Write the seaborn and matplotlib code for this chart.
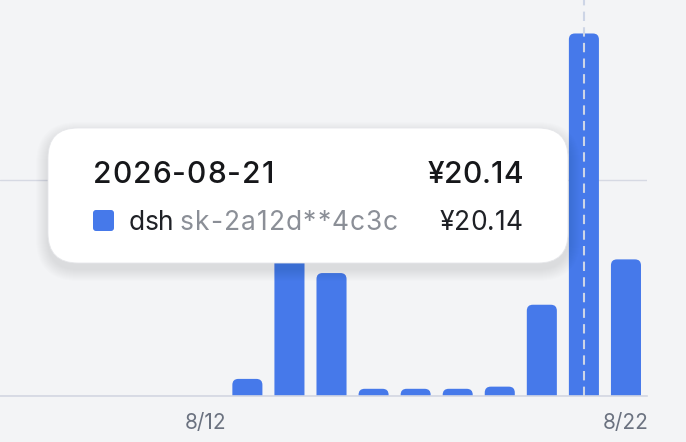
import numpy as np
import pandas as pd
import matplotlib
matplotlib.use('Agg')
import matplotlib.pyplot as plt
import matplotlib.transforms as mtransforms
from matplotlib.patches import FancyBboxPatch
import seaborn as sns

# =============================================================================
# DATA (daily cost, CNY)
days = ['8/08', '8/09', '8/10', '8/11', '8/12', '8/13', '8/14', '8/15',
        '8/16', '8/17', '8/18', '8/19', '8/20', '8/21', '8/22']
cost = [0, 0, 0, 0, 0, 0.95, 10.6, 6.83, 0.4, 0.4, 0.4, 0.52, 5.07, 20.14, 7.59]
tick_days = ['8/12', '8/22']
grid_vals = [0, 12]

hover_day = '8/21'
hover_date = '2026-08-21'
hover_user = 'dsh'
hover_key = 'sk-2a12d**4c3c'
hover_total = '¥20.14'
hover_value = '¥20.14'

# =============================================================================
W, H = 686, 442
bg = '#f3f4f6'
blue = '#4679ea'

sns.set_theme(style='white')
plt.rcParams['font.family'] = ['Inter', 'DejaVu Sans']

fig = plt.figure(figsize=(W / 100, H / 100), dpi=100, facecolor=bg)
ax = fig.add_axes([0, (H - 396) / H, 647 / W, 396 / H])
ax.set_facecolor(bg)

df = pd.DataFrame({'day': days, 'cost': cost})
sns.barplot(data=df, x='day', y='cost', color=blue, width=30 / 42,
            saturation=1, ax=ax)

ax.set_xlim(len(days) - 1 - 625 / 42, len(days) - 0.5)
ax.set_ylim(0, 22.0)

# rounded tops on the bars
fig.canvas.draw()
renderer = fig.canvas.get_renderer()
bb = ax.get_window_extent()
px_x = bb.width / np.ptp(ax.get_xlim())
px_y = bb.height / np.ptp(ax.get_ylim())
r = 6 / px_x
aspect = px_x / px_y
for p in list(ax.patches):
    x0, w, h = p.get_x(), p.get_width(), p.get_height()
    p.remove()
    if h <= 0:
        continue
    ax.add_patch(FancyBboxPatch((x0, -r * aspect), w, h + r * aspect,
                                boxstyle='round,pad=0,rounding_size=%f' % r,
                                mutation_aspect=aspect, fc=blue, ec='none',
                                zorder=2))

ax.axvline(days.index(hover_day), color='#cdd5e6', lw=1.5,
           dashes=(4.5, 3), zorder=3)

for s in ['top', 'right', 'left']:
    ax.spines[s].set_visible(False)
ax.spines['bottom'].set_color('#d3d7e2')
ax.spines['bottom'].set_linewidth(1.2)
ax.set_yticks(grid_vals)
ax.yaxis.grid(True, color='#d6d9e3', lw=1.0)
ax.tick_params(axis='y', length=0, labelleft=False)
ax.set_xticks([days.index(d) for d in tick_days])
ax.set_xticklabels(tick_days, fontsize=15, color='#6b7280')
ax.tick_params(axis='x', length=0, pad=12)
ax.set_xlabel('')
ax.set_ylabel('')

# =============================================================================
# Tooltip
ident = mtransforms.IdentityTransform()


def fx(x):
    return x / W


def fy(y):
    return 1 - y / H


def spaced_text(x, y, s, track, ha='left', **kw):
    # text with extra letter spacing (px), placed glyph by glyph
    widths = []
    for ch in s:
        t = fig.text(0, 0, ch, **kw)
        widths.append(t.get_window_extent(renderer).width)
        t.remove()
    total = sum(widths) + track * (len(s) - 1)
    cx = x if ha == 'left' else x - total
    for ch, w in zip(s, widths):
        fig.text(fx(cx), fy(y), ch, va='baseline', ha='left', zorder=8, **kw)
        cx += w + track


bx0, by0, bx1, by1 = 48, 128, 568, 263
for k in range(12, 0, -1):
    sh = FancyBboxPatch((bx0 - k, H - by1 - k - 6), bx1 - bx0 + 2 * k,
                        by1 - by0 + 2 * k,
                        boxstyle='round,pad=0,rounding_size=%f' % (30 + k),
                        fc='black', ec='none', alpha=0.007,
                        transform=ident, zorder=5)
    fig.patches.append(sh)
box = FancyBboxPatch((bx0, H - by1), bx1 - bx0, by1 - by0,
                     boxstyle='round,pad=0,rounding_size=30',
                     fc='white', ec='#e6e7ea', lw=0.6, transform=ident,
                     zorder=6)
fig.patches.append(box)
sq = FancyBboxPatch((93, H - 231), 21, 21,
                    boxstyle='round,pad=0,rounding_size=3',
                    fc=blue, ec='none', transform=ident, zorder=7)
fig.patches.append(sq)

spaced_text(93, 183, hover_date, 1.0, fontsize=21.5, fontweight='medium',
            color='#16171a')
spaced_text(523, 183, hover_total, 0.0, ha='right', fontsize=21.5,
            fontweight='medium', color='#16171a')
spaced_text(129, 230, hover_user, -0.6, fontsize=19, color='#1f2126')
spaced_text(180, 230, hover_key, 1.05, fontsize=19, color='#8b8f97')
spaced_text(523, 230, hover_value, 0.2, ha='right', fontsize=19,
            color='#1f2126')

fig.savefig('out.png', dpi=100, facecolor=bg)
